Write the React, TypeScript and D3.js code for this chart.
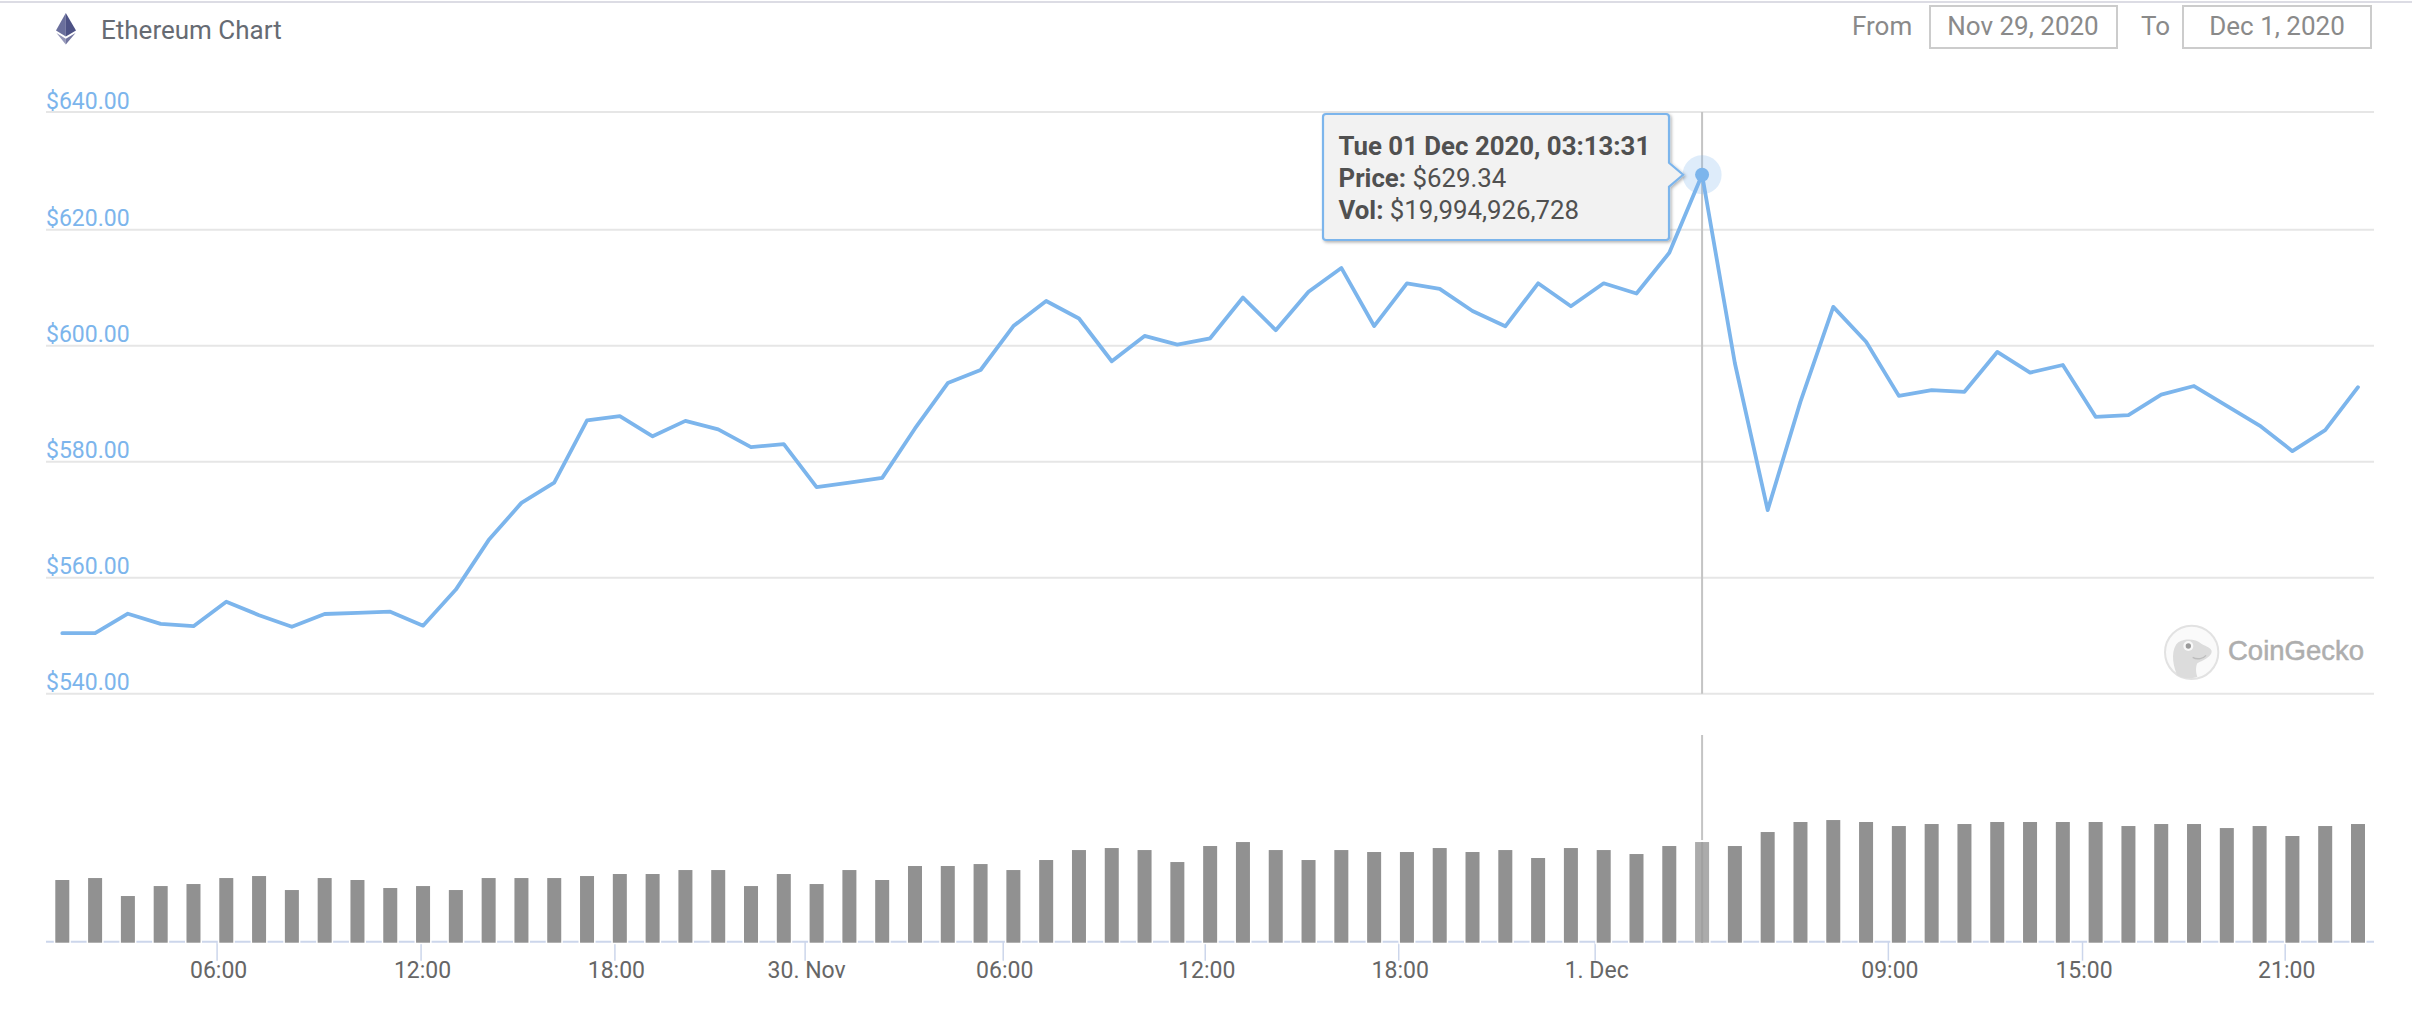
import React, { useRef, useEffect } from "react"
import * as d3 from "d3"

// hourly points, ordinal x axis (one slot per point)
const prices = [
  550.43, 550.43, 553.79, 552.04, 551.64, 555.85, 553.54, 551.54, 553.74, 553.94, 554.14, 551.73,
  557.95, 566.48, 572.9, 576.41, 587.14, 587.84, 584.38, 587.04, 585.58, 582.52, 583.03, 575.6,
  576.41, 577.21, 585.73, 593.56, 595.81, 603.39, 607.7, 604.69, 597.32, 601.68, 600.18, 601.28,
  608.3, 602.68, 609.3, 613.41, 603.39, 610.76, 609.81, 605.99, 603.34, 610.76, 606.8, 610.76,
  609.0, 616.02, 629.34, 596.97, 571.65, 590.35, 606.7, 600.68, 591.35, 592.35, 592.05, 598.92,
  595.36, 596.67, 587.74, 588.04, 591.55, 593.05, 589.64, 586.24, 581.82, 585.43, 592.85,
]

// volume in billions of USD
const volumes = [
  12.45, 12.84, 9.27, 11.25, 11.65, 12.84, 13.24, 10.46, 12.84, 12.45, 10.86, 11.25,
  10.46, 12.84, 12.84, 12.84, 13.24, 13.64, 13.64, 14.43, 14.43, 11.25, 13.64, 11.65,
  14.43, 12.45, 15.23, 15.23, 15.62, 14.43, 16.42, 18.4, 18.8, 18.4, 16.02, 19.2,
  19.99, 18.4, 16.42, 18.4, 18.01, 18.01, 18.8, 18.01, 18.4, 16.82, 18.8, 18.4,
  17.61, 19.2, 19.99, 19.2, 21.98, 23.97, 24.36, 23.97, 23.17, 23.57, 23.57, 23.97,
  23.97, 23.97, 23.97, 23.17, 23.57, 23.57, 22.77, 23.17, 21.19, 23.17, 23.57,
]

const priceTicks = [540, 560, 580, 600, 620, 640]
const timeLabels = ["06:00", "12:00", "18:00", "30. Nov", "06:00", "12:00", "18:00", "1. Dec", "09:00", "15:00", "21:00"]
const timeSlots = [4.72, 10.94, 16.85, 22.65, 28.69, 34.85, 40.75, 46.74, 55.68, 61.6, 67.78]

const hoverIndex = 50
const tooltipLines = [
  { label: "Tue 01 Dec 2020, 03:13:31", value: "" },
  { label: "Price:", value: " $629.34" },
  { label: "Vol:", value: " $19,994,926,728" },
]

const width = 2412
const height = 1019
const font = "Roboto, sans-serif"
const blue = "#7cb5ec"

const App: React.FC = () => {
  const svgRef = useRef<SVGSVGElement | null>(null)

  useEffect(() => {
    if (!svgRef.current) return

    const svg = d3.select(svgRef.current)
    svg.selectAll("*").remove()

    const left = 46
    const right = 2374

    const x = d3.scaleLinear().domain([0, prices.length - 1]).range([62.3, 2358])
    // the top gridline sits a little high in the screenshot
    const y = d3.scaleLinear().domain([540, 620, 640]).range([693.7, 229.7, 112])
    const yVol = d3.scaleLinear().domain([0, 41.25]).range([942.7, 735])

    const defs = svg.append("defs")
    const shadow = defs.append("filter").attr("id", "tipShadow").attr("x", "-5%").attr("y", "-5%").attr("width", "110%").attr("height", "115%")
    shadow
      .append("feDropShadow")
      .attr("dx", 1.5)
      .attr("dy", 1.5)
      .attr("stdDeviation", 1.5)
      .attr("flood-color", "#000")
      .attr("flood-opacity", 0.3)

    // top page border
    svg.append("rect").attr("x", 0).attr("y", 1).attr("width", width).attr("height", 2).attr("fill", "#dcdce4")

    // ethereum icon
    const eth = svg.append("g")
    eth.append("polygon").attr("points", "65.8,13 56,30.5 65.8,36.5").attr("fill", "#6a6f9c")
    eth.append("polygon").attr("points", "65.8,13 76,30.5 65.8,36.5").attr("fill", "#4d5285")
    eth.append("polygon").attr("points", "56.5,33 65.8,38.8 65.8,44.5").attr("fill", "#9496b8")
    eth.append("polygon").attr("points", "75.5,33 65.8,38.8 65.8,44.5").attr("fill", "#72759f")

    svg
      .append("text")
      .attr("x", 101)
      .attr("y", 39)
      .text("Ethereum Chart")
      .style("font-family", font)
      .style("font-size", "26px")
      .style("fill", "#666b73")

    // date range inputs
    const rangeText = (t: string, xPos: number, anchor: string) =>
      svg
        .append("text")
        .attr("x", xPos)
        .attr("y", 34.5)
        .attr("text-anchor", anchor)
        .text(t)
        .style("font-family", font)
        .style("font-size", "26px")
        .style("fill", "#8a8a8a")

    rangeText("From", 1852, "start")
    rangeText("To", 2141, "start")
    svg.append("rect").attr("x", 1930).attr("y", 6).attr("width", 187).attr("height", 42).attr("fill", "none").attr("stroke", "#cccccc").attr("stroke-width", 2)
    svg.append("rect").attr("x", 2183).attr("y", 6).attr("width", 188).attr("height", 42).attr("fill", "none").attr("stroke", "#cccccc").attr("stroke-width", 2)
    rangeText("Nov 29, 2020", 2023, "middle")
    rangeText("Dec 1, 2020", 2277, "middle")

    // price grid and labels
    const yAxis = svg
      .append("g")
      .attr("transform", `translate(${left},0)`)
      .call(
        d3
          .axisRight(y)
          .tickValues(priceTicks)
          .tickSize(right - left)
          .tickFormat((d) => "$" + d3.format(".2f")(d as number))
          .offset(0)
      )
    yAxis.select(".domain").remove()
    yAxis.selectAll(".tick line").attr("stroke", "#e6e6e6").attr("stroke-width", 2)
    yAxis
      .selectAll(".tick text")
      .attr("x", 0)
      .attr("dy", -3.5)
      .attr("text-anchor", "start")
      .style("font-family", font)
      .style("font-size", "23px")
      .style("fill", blue)

    // coingecko watermark
    const logo = svg.append("g").attr("transform", "translate(2140,610) scale(0.3333)")
    logo.append("ellipse").attr("cx", 155).attr("cy", 127).attr("rx", 80).attr("ry", 80).attr("fill", "#fafafa").attr("stroke", "#e2e2e2").attr("stroke-width", 6)
    logo
      .append("path")
      .attr("d", "M112,196 C100,170 92,130 108,104 C124,84 165,84 185,102 C200,110 216,114 215,126 C212,142 190,150 172,160 C166,172 168,190 172,200 C150,208 130,206 112,196 Z")
      .attr("fill", "#dcdcdc")
    logo.append("circle").attr("cx", 145).attr("cy", 108).attr("r", 15).attr("fill", "#f8f8f8")
    logo.append("circle").attr("cx", 145).attr("cy", 108).attr("r", 8).attr("fill", "#9a9a9a")
    logo.append("path").attr("d", "M158,142 C172,150 190,146 198,136").attr("fill", "none").attr("stroke", "#bdbdbd").attr("stroke-width", 4)
    svg
      .append("text")
      .attr("x", 2228)
      .attr("y", 659.5)
      .text("CoinGecko")
      .style("font-family", "'Liberation Sans', sans-serif")
      .style("font-size", "27.5px")
      .style("font-weight", "400")
      .style("stroke", "#aeaeae")
      .style("stroke-width", "0.5px")
      .style("fill", "#aeaeae")

    // crosshair, both panes
    const crossX = x(hoverIndex)
    svg.append("line").attr("x1", crossX).attr("x2", crossX).attr("y1", y(640)).attr("y2", y(540)).attr("stroke", "#c4c4c4").attr("stroke-width", 2)

    // x axis
    const xAxis = svg
      .append("g")
      .attr("transform", "translate(0,941.7)")
      .call(
        d3
          .axisBottom(x)
          .tickValues(timeSlots)
          .tickSize(19)
          .tickPadding(0)
          .tickFormat((_, i) => timeLabels[i])
          .offset(0)
      )
    xAxis.select(".domain").remove()
    xAxis.selectAll(".tick line").attr("stroke", "#ccd6eb").attr("stroke-width", 1.5)
    xAxis
      .selectAll(".tick text")
      .attr("x", 1.5)
      .attr("y", 36.5)
      .attr("dy", 0)
      .style("font-family", font)
      .style("font-size", "23px")
      .style("fill", "#666666")
    svg.append("line").attr("x1", left).attr("x2", right).attr("y1", 941.7).attr("y2", 941.7).attr("stroke", "#ccd6eb").attr("stroke-width", 2)

    // volume bars, the white outline cuts the axis line
    svg
      .append("g")
      .selectAll("rect")
      .data(volumes)
      .join("rect")
      .attr("x", (_, i) => x(i) - 7)
      .attr("y", (d) => yVol(d))
      .attr("width", 14)
      .attr("height", (d) => yVol(0) - yVol(d))
      .attr("fill", (_, i) => (i === hoverIndex ? "#ababab" : "#919191"))
      .attr("stroke", "#ffffff")
      .attr("stroke-width", 3)
      .style("paint-order", "stroke")

    // volume pane crosshair stops above the hovered bar, darker inside it
    svg.append("line").attr("x1", crossX).attr("x2", crossX).attr("y1", yVol.range()[1]).attr("y2", yVol(volumes[hoverIndex]) - 2).attr("stroke", "#c4c4c4").attr("stroke-width", 2)
    svg.append("line").attr("x1", crossX).attr("x2", crossX).attr("y1", yVol(volumes[hoverIndex])).attr("y2", yVol(0)).attr("stroke", "#a0a0a0").attr("stroke-width", 2)

    // price line
    const line = d3
      .line<number>()
      .x((_, i) => x(i))
      .y((d) => y(d))
    svg
      .append("path")
      .datum(prices)
      .attr("fill", "none")
      .attr("stroke", blue)
      .attr("stroke-width", 3.8)
      .attr("stroke-linejoin", "round")
      .attr("stroke-linecap", "round")
      .attr("d", line)

    // hover marker
    const px = x(hoverIndex)
    const py = y(prices[hoverIndex])
    svg.append("circle").attr("cx", px).attr("cy", py).attr("r", 19.5).attr("fill", blue).attr("fill-opacity", 0.25)
    svg.append("circle").attr("cx", px).attr("cy", py).attr("r", 7).attr("fill", blue)

    // tooltip box with the pointer toward the hovered point
    const tipL = 1323
    const tipR = 1669
    const tipT = 114
    const tipB = 240
    const r = 3
    const tipPath = [
      `M${tipL + r},${tipT}`,
      `L${tipR - r},${tipT}`,
      `Q${tipR},${tipT} ${tipR},${tipT + r}`,
      `L${tipR},${py - 12}`,
      `L${px - 19},${py}`,
      `L${tipR},${py + 12}`,
      `L${tipR},${tipB - r}`,
      `Q${tipR},${tipB} ${tipR - r},${tipB}`,
      `L${tipL + r},${tipB}`,
      `Q${tipL},${tipB} ${tipL},${tipB - r}`,
      `L${tipL},${tipT + r}`,
      `Q${tipL},${tipT} ${tipL + r},${tipT}`,
      "Z",
    ].join(" ")
    svg
      .append("path")
      .attr("d", tipPath)
      .attr("fill", "#f2f2f2")
      .attr("stroke", blue)
      .attr("stroke-width", 2.2)
      .attr("filter", "url(#tipShadow)")

    const tipText = svg
      .append("g")
      .selectAll("text")
      .data(tooltipLines)
      .join("text")
      .attr("x", 1338.5)
      .attr("y", (_, i) => 154.5 + i * 32.2)
      .style("font-family", font)
      .style("font-size", "25.8px")
      .style("fill", "#505050")
    tipText.append("tspan").style("font-weight", "700").text((d) => d.label)
    tipText.append("tspan").attr("xml:space", "preserve").style("white-space", "pre").text((d) => d.value)
  }, [])

  return (
    <svg
      ref={svgRef}
      width={width}
      height={height}
      style={{ position: "absolute", top: 0, left: 0, display: "block", background: "#fff" }}
    ></svg>
  )
}

export default App
